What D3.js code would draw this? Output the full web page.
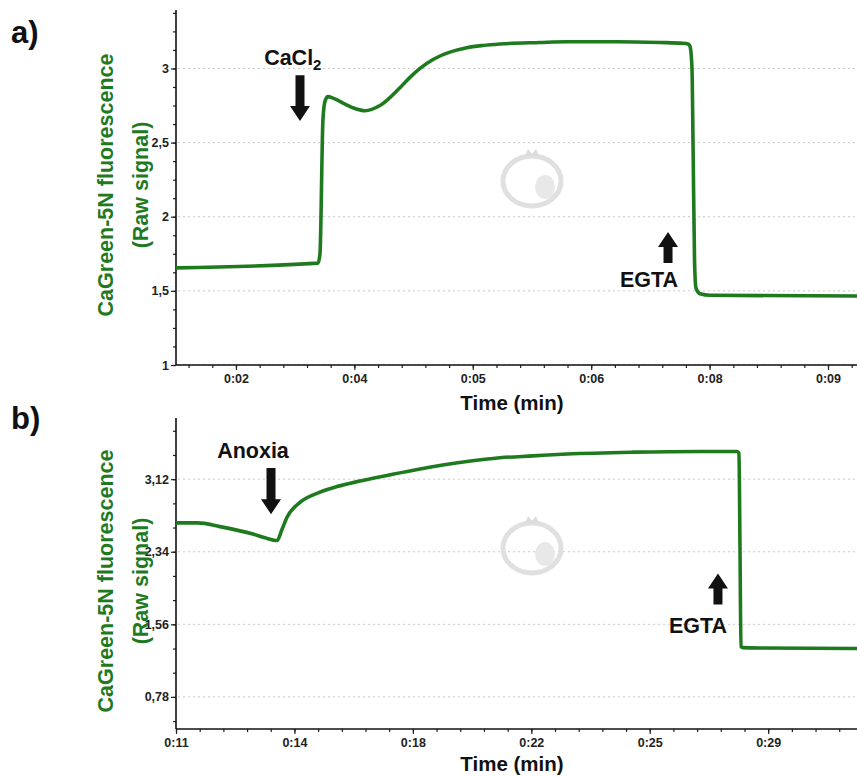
<!DOCTYPE html>
<html>
<head>
<meta charset="utf-8">
<script src="https://cdn.jsdelivr.net/npm/d3@7"></script>
<style>
  body { margin: 0; background: #fff; }
  svg { display: block; }
  text { font-family: "Liberation Sans", Arial, sans-serif; }
</style>
</head>
<body>
<div id="chart"></div>
<script>
// Panel a) CaCl2 then EGTA (time in min, raw signal)
const timeA = [1.867, 3.366, 3.387, 3.418, 3.440, 3.471, 3.524, 3.651, 3.756, 3.862, 4.020, 4.231, 4.337, 4.443, 4.580, 4.759, 4.938, 5.108, 5.287, 5.709, 5.994, 6.522, 6.976, 7.219, 7.272, 7.293, 7.314, 7.325, 7.341, 7.356, 7.399, 7.504, 9.056];
const signalA = [1.655, 1.687, 1.75, 2.65, 2.78, 2.81, 2.80, 2.76, 2.73, 2.715, 2.75, 2.87, 2.94, 3.00, 3.06, 3.11, 3.14, 3.155, 3.165, 3.175, 3.18, 3.18, 3.175, 3.17, 3.165, 3.15, 3.00, 2.50, 1.70, 1.52, 1.48, 1.47, 1.465];
const xTicksA = [2.5, 3.75, 5, 6.25, 7.5, 8.75];
const xLabelsA = ["0:02", "0:04", "0:05", "0:06", "0:08", "0:09"];
const yTicksA = [1, 1.5, 2, 2.5, 3];

// Panel b) Anoxia then EGTA
const timeB = [11.0, 11.669, 12.337, 13.340, 13.705, 14.070, 14.222, 14.374, 14.769, 15.377, 15.894, 16.593, 17.413, 18.416, 19.845, 20.848, 21.851, 22.884, 24.891, 26.927, 28.052, 28.112, 28.143, 28.173, 28.234, 28.751, 31.7];
const signalB = [2.65, 2.65, 2.61, 2.53, 2.49, 2.46, 2.58, 2.71, 2.87, 2.98, 3.04, 3.10, 3.16, 3.23, 3.31, 3.35, 3.37, 3.39, 3.41, 3.418, 3.418, 3.40, 2.40, 1.32, 1.31, 1.305, 1.30];
const xTicksB = [11, 14.6, 18.2, 21.8, 25.4, 29];
const xLabelsB = ["0:11", "0:14", "0:18", "0:22", "0:25", "0:29"];
const yTicksB = [0.78, 1.56, 2.34, 3.12];

// annotations: label, arrow time, arrow tail/tip values, label time/value
const notesA = [
  {label: "CaCl", sub: "2", t: 3.176, tail: 2.955, tip: 2.645, lt: 3.10, lv: 3.022},
  {label: "EGTA", sub: "", t: 7.061, tail: 1.688, tip: 1.897, lt: 6.86, lv: 1.526}
];
const notesB = [
  {label: "Anoxia", sub: "", t: 13.888, tail: 3.239, tip: 2.743, lt: 13.34, lv: 3.346},
  {label: "EGTA", sub: "", t: 27.474, tail: 1.772, tip: 2.106, lt: 26.866, lv: 1.470}
];

const W = 857, H = 777;
const green = "#1f7a1f";
const svg = d3.select("#chart").append("svg").attr("width", W).attr("height", H);

function panel(o) {
  const x = d3.scaleLinear().domain(o.xDomain).range([176, 857]);
  const y = d3.scaleLinear().domain(o.yDomain).range([o.bottom, o.top]);
  const g = svg.append("g");

  // grid
  g.selectAll(".grid").data(o.yTicks).join("line")
    .attr("x1", 178).attr("x2", 857)
    .attr("y1", d => y(d)).attr("y2", d => y(d))
    .attr("stroke", "#c8c8c8").attr("stroke-width", 1).attr("stroke-dasharray", "2,3");

  // watermark
  const wm = g.append("g").attr("transform", `translate(532,${o.wmY})`);
  wm.append("ellipse").attr("rx", 29).attr("ry", 25).attr("fill", "none")
    .attr("stroke", "#e0e0e0").attr("stroke-width", 5);
  wm.append("ellipse").attr("cx", 13).attr("cy", 6).attr("rx", 10).attr("ry", 12).attr("fill", "#e8e8e8");
  wm.append("path").attr("d", "M-7,-25 L-4,-32 L0,-27 L4,-32 L7,-25 Z").attr("fill", "#dcdcdc");

  // minor ticks
  const minorY = g.append("g").attr("transform", "translate(176,0)")
    .call(d3.axisLeft(y).tickValues(o.yMinor).tickSize(3).tickFormat(""));
  minorY.select(".domain").remove();
  const minorX = g.append("g").attr("transform", `translate(0,${o.bottom})`)
    .call(d3.axisBottom(x).tickValues(o.xMinor).tickSize(3).tickFormat(""));
  minorX.select(".domain").remove();
  g.selectAll(".tick line").attr("stroke", "#222").attr("stroke-width", 1.2);

  // major axes
  const ya = g.append("g").attr("transform", "translate(176,0)")
    .call(d3.axisLeft(y).tickValues(o.yTicks).tickSize(5).tickPadding(2)
      .tickFormat(d => String(d).replace(".", ",")));
  const xa = g.append("g").attr("transform", `translate(0,${o.bottom})`)
    .call(d3.axisBottom(x).tickValues(o.xTicks).tickSize(5).tickPadding(4)
      .tickFormat((d, i) => o.xLabels[i]));
  [ya, xa].forEach(a => {
    a.select(".domain").remove();
    a.selectAll("line").attr("stroke", "#222").attr("stroke-width", 1.2);
    a.selectAll("text").attr("font-size", 12.5).attr("font-weight", "bold").attr("fill", "#222")
      .style("font-family", '"Liberation Sans", Arial, sans-serif');
  });
  g.append("line").attr("x1", 176).attr("x2", 176).attr("y1", o.top - 3).attr("y2", o.bottom)
    .attr("stroke", "#111").attr("stroke-width", 1.6);
  g.append("line").attr("x1", 176).attr("x2", 857).attr("y1", o.bottom).attr("y2", o.bottom)
    .attr("stroke", "#111").attr("stroke-width", 1.6);

  // trace
  const pts = o.time.map((t, i) => [t, o.signal[i]]);
  g.append("path").datum(pts)
    .attr("fill", "none").attr("stroke", green).attr("stroke-width", 3.6)
    .attr("stroke-linejoin", "round")
    .attr("d", d3.line().x(d => x(d[0])).y(d => y(d[1])).curve(d3.curveMonotoneX));

  // annotations
  o.notes.forEach(n => {
    const ax = x(n.t), y0 = y(n.tail), y1 = y(n.tip);
    const dir = y1 > y0 ? 1 : -1, h = 15;
    const hy = y1 - dir * h;
    g.append("path").attr("fill", "#111")
      .attr("d", `M${ax - 4.5},${y0} L${ax + 4.5},${y0} L${ax + 4.5},${hy} L${ax + 10},${hy} L${ax},${y1} L${ax - 10},${hy} L${ax - 4.5},${hy} Z`);
    const t = g.append("text").attr("x", x(n.lt)).attr("y", y(n.lv))
      .attr("text-anchor", "middle").attr("font-size", 21.5).attr("font-weight", "bold").attr("fill", "#111")
      .text(n.label);
    if (n.sub) t.append("tspan").attr("font-size", 15).attr("dy", 5).text(n.sub);
  });

  // titles
  svg.append("text").attr("x", 11).attr("y", o.letterY).attr("font-size", 31).attr("font-weight", "bold")
    .attr("fill", "#111").text(o.letter);
  const yl = svg.append("text").attr("transform", `translate(0,${o.ylabY}) rotate(-90)`)
    .attr("text-anchor", "middle").attr("font-size", 21.5).attr("font-weight", "bold").attr("fill", green);
  yl.append("tspan").attr("x", 0).attr("y", 113).text("CaGreen-5N fluorescence");
  yl.append("tspan").attr("x", 0).attr("y", 148).text("(Raw signal)");
  svg.append("text").attr("x", 512).attr("y", o.bottom + o.titleGap).attr("text-anchor", "middle")
    .attr("font-size", 20.5).attr("font-weight", "bold").attr("fill", "#111").text("Time (min)");
}

panel({
  time: timeA, signal: signalA, xTicks: xTicksA, xLabels: xLabelsA, yTicks: yTicksA,
  xDomain: [1.867, 9.056], yDomain: [1, 3.374], top: 13, bottom: 365,
  xMinor: d3.range(2.0, 9.06, 0.25), yMinor: d3.range(1, 3.38, 0.125),
  notes: notesA, letter: "a)", letterY: 43, ylabY: 185, wmY: 181, titleGap: 45
});
panel({
  time: timeB, signal: signalB, xTicks: xTicksB, xLabels: xLabelsB, yTicks: yTicksB,
  xDomain: [11, 31.7], yDomain: [0.435, 3.745], top: 421, bottom: 729,
  xMinor: d3.range(11, 31.7, 0.72), yMinor: d3.range(0.52, 3.75, 0.26),
  notes: notesB, letter: "b)", letterY: 429, ylabY: 581, wmY: 548, titleGap: 42
});
</script>
</body>
</html>
